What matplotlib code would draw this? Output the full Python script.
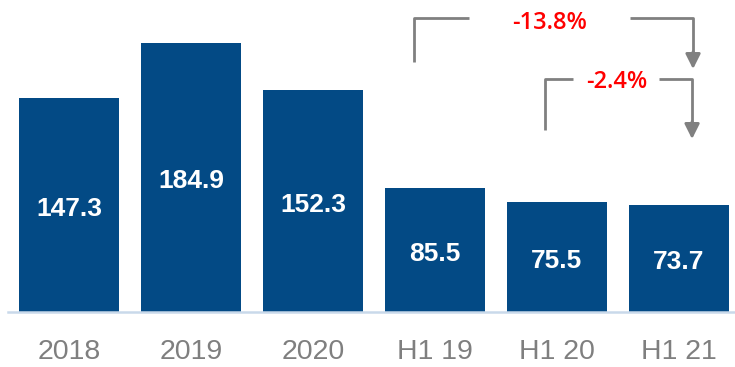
import matplotlib
matplotlib.use("Agg")
import matplotlib.pyplot as plt

categories = ["2018", "2019", "2020", "H1 19", "H1 20", "H1 21"]
values = [147.3, 184.9, 152.3, 85.5, 75.5, 73.7]
changes = ["-13.8%", "-2.4%"]

BAR_COLOR = "#034A85"
GRAY = "#808080"
W, H = 735, 367
fig = plt.figure(figsize=(W / 100, H / 100), dpi=100)
ax = fig.add_axes([8 / W, 55 / H, 727 / W, 312 / H])
ax.set_xlim(-0.5, (735 - 69) / 122)
ax.set_ylim(0, 312 / 1.455)

x = list(range(len(categories)))
ax.bar(x, values, width=100 / 122, color=BAR_COLOR, zorder=2)

for xi, v in zip(x, values):
    ax.annotate(f"{v:.1f}", xy=(xi, v / 2), xytext=(0, -7.8), textcoords="offset points",
                ha="center", va="baseline", color="white", fontsize=19,
                fontweight="bold", family="Liberation Sans")

for s in ["top", "right", "left"]:
    ax.spines[s].set_visible(False)
ax.spines["bottom"].set_color("#C9D9EA")
ax.spines["bottom"].set_linewidth(1.8)
ax.set_yticks([])
ax.set_xticks(x)
ax.set_xticklabels(categories, fontsize=20.5, color="#7F7F7F", family="Liberation Sans")
ax.tick_params(axis="x", length=0, pad=19.5)

lw = 2.0
# bracket 1: H1 19 -> H1 21
ax.plot([2.828, 2.828, 3.279], [171.8, 202.2, 202.2], color=GRAY, lw=lw, solid_capstyle="butt")
ax.plot([4.598, 5.115, 5.115], [202.2, 202.2, 178.0], color=GRAY, lw=lw, solid_capstyle="butt")
ax.annotate("", xy=(5.115, 167.0), xytext=(5.115, 179.0),
            arrowprops=dict(arrowstyle="-|>,head_length=0.9,head_width=0.45", color=GRAY, lw=lw,
                            shrinkA=0, shrinkB=0))
ax.text(3.943, 194.5, changes[0], ha="center", va="baseline", color="#FF0000",
        fontsize=17, fontweight="semibold", family="Open Sans")

# bracket 2: H1 20 -> H1 21
ax.plot([3.902, 3.902, 4.131], [125.1, 160.2, 160.2], color=GRAY, lw=lw, solid_capstyle="butt")
ax.plot([4.836, 5.107, 5.107], [160.2, 160.2, 130.0], color=GRAY, lw=lw, solid_capstyle="butt")
ax.annotate("", xy=(5.107, 118.9), xytext=(5.107, 131.0),
            arrowprops=dict(arrowstyle="-|>,head_length=0.9,head_width=0.45", color=GRAY, lw=lw,
                            shrinkA=0, shrinkB=0))
ax.text(4.492, 153.7, changes[1], ha="center", va="baseline", color="#FF0000",
        fontsize=17, fontweight="semibold", family="Open Sans")

fig.savefig("out.png", dpi=100)
